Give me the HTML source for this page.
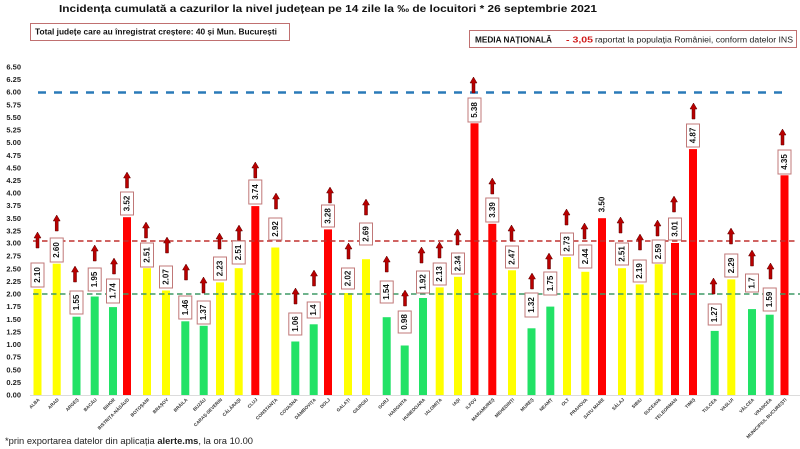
<!DOCTYPE html>
<html><head><meta charset="utf-8">
<style>
html,body{margin:0;padding:0;background:#fff;}
svg{display:block;}
.yl{font:bold 7.5px "Liberation Sans",sans-serif;fill:#222;text-anchor:end;dominant-baseline:central;}
.xl{font:bold 4.6px "Liberation Sans",sans-serif;fill:#333;text-anchor:end;}
.bx{fill:#fff;stroke:#c07878;stroke-width:1;}
.bt{font:bold 8px "Liberation Sans",sans-serif;fill:#111;text-anchor:middle;dominant-baseline:central;}
.ar{fill:#b80000;stroke:#5a0000;stroke-width:0.5;}
</style></head>
<body>
<svg width="800" height="449" viewBox="0 0 800 449" xmlns="http://www.w3.org/2000/svg">
<defs>
<polygon id="arw" class="ar" points="0,0 3.5,6 1.5,6 1.5,16 -1.5,16 -1.5,6 -3.5,6"/>
</defs>
<!-- title -->
<text x="59" y="12" textLength="538" lengthAdjust="spacingAndGlyphs" style="font:bold 10.5px 'Liberation Sans',sans-serif;fill:#111;">Incidența cumulată a cazurilor la nivel județean pe 14 zile la ‰ de locuitori * 26 septembrie 2021</text>
<!-- box 1 -->
<rect x="30.5" y="23.5" width="259" height="17" fill="#fff" stroke="#c07070" stroke-width="1"/>
<text x="35" y="34.5" textLength="242" lengthAdjust="spacingAndGlyphs" style="font:bold 8px 'Liberation Sans',sans-serif;fill:#111;">Total județe care au înregistrat creștere:  40 și Mun. București</text>
<!-- box 2 -->
<rect x="469.5" y="30.5" width="327" height="17" fill="#fff" stroke="#c07070" stroke-width="1"/>
<text y="42.5" style="font:8px 'Liberation Sans',sans-serif;fill:#222;"><tspan x="475" textLength="77" lengthAdjust="spacingAndGlyphs" style="font-weight:bold;fill:#111;">MEDIA NAȚIONALĂ</tspan><tspan x="566" textLength="27" lengthAdjust="spacingAndGlyphs" style="font-weight:bold;fill:#d01818;">- 3,05</tspan><tspan x="595" textLength="198" lengthAdjust="spacingAndGlyphs">raportat la populația României, conform datelor INS</tspan></text>

<!-- y labels -->
<g class="yl">
<text x="21" y="67.0">6.50</text><text x="21" y="79.6">6.25</text><text x="21" y="92.0">6.00</text><text x="21" y="104.9">5.75</text>
<text x="21" y="117.5">5.50</text><text x="21" y="130.1">5.25</text><text x="21" y="142.5">5.00</text><text x="21" y="155.4">4.75</text>
<text x="21" y="168.0">4.50</text><text x="21" y="180.4">4.25</text><text x="21" y="193.0">4.00</text><text x="21" y="205.6">3.75</text>
<text x="21" y="218.3">3.50</text><text x="21" y="230.9">3.25</text><text x="21" y="243.0">3.00</text><text x="21" y="256.1">2.75</text>
<text x="21" y="268.8">2.50</text><text x="21" y="281.4">2.25</text><text x="21" y="294.0">2.00</text><text x="21" y="306.6">1.75</text>
<text x="21" y="319.3">1.50</text><text x="21" y="331.9">1.25</text><text x="21" y="344.5">1.00</text><text x="21" y="357.1">0.75</text>
<text x="21" y="369.8">0.50</text><text x="21" y="382.4">0.25</text><text x="21" y="395.0">0.00</text>
</g>

<line x1="30" y1="395.5" x2="800" y2="395.5" stroke="#dcdcdc" stroke-width="1"/>

<!-- bars -->
<g>
<rect x="33.5" y="288.95" width="8" height="106.05" fill="#ffff00"/>
<rect x="52.7" y="263.7" width="8" height="131.3" fill="#ffff00"/>
<rect x="72.5" y="316.7" width="8" height="78.3" fill="#22e266"/>
<rect x="90.7" y="296.5" width="8" height="98.5" fill="#22e266"/>
<rect x="109" y="307.1" width="8" height="87.9" fill="#22e266"/>
<rect x="123" y="217.2" width="8" height="177.8" fill="#ff0000"/>
<rect x="143" y="268.2" width="8" height="126.8" fill="#ffff00"/>
<rect x="162" y="290.5" width="8" height="104.5" fill="#ffff00"/>
<rect x="181.3" y="321.3" width="8" height="73.7" fill="#22e266"/>
<rect x="199.7" y="325.8" width="8" height="69.2" fill="#22e266"/>
<rect x="216" y="282.4" width="8" height="112.6" fill="#ffff00"/>
<rect x="234.7" y="268.2" width="8" height="126.8" fill="#ffff00"/>
<rect x="251.3" y="206.1" width="8" height="188.9" fill="#ff0000"/>
<rect x="271.3" y="247.5" width="8" height="147.5" fill="#ffff00"/>
<rect x="291.3" y="341.5" width="8" height="53.5" fill="#22e266"/>
<rect x="309.7" y="324.3" width="8" height="70.7" fill="#22e266"/>
<rect x="324" y="229.4" width="8" height="165.6" fill="#ff0000"/>
<rect x="344" y="293.0" width="8" height="102" fill="#ffff00"/>
<rect x="362" y="259.2" width="8" height="135.8" fill="#ffff00"/>
<rect x="382.7" y="317.2" width="8" height="77.8" fill="#22e266"/>
<rect x="400.7" y="345.5" width="8" height="49.5" fill="#22e266"/>
<rect x="419" y="298.0" width="8" height="97" fill="#22e266"/>
<rect x="435.7" y="287.4" width="8" height="107.6" fill="#ffff00"/>
<rect x="454" y="276.8" width="8" height="118.2" fill="#ffff00"/>
<rect x="470.5" y="123.3" width="8" height="271.7" fill="#ff0000"/>
<rect x="488.3" y="223.8" width="8" height="171.2" fill="#ff0000"/>
<rect x="508" y="270.3" width="8" height="124.7" fill="#ffff00"/>
<rect x="527.5" y="328.3" width="8" height="66.7" fill="#22e266"/>
<rect x="546.3" y="306.6" width="8" height="88.4" fill="#22e266"/>
<rect x="563" y="257.1" width="8" height="137.9" fill="#ffff00"/>
<rect x="581.3" y="271.8" width="8" height="123.2" fill="#ffff00"/>
<rect x="598" y="218.2" width="8" height="176.8" fill="#ff0000"/>
<rect x="618" y="268.2" width="8" height="126.8" fill="#ffff00"/>
<rect x="635.7" y="284.4" width="8" height="110.6" fill="#ffff00"/>
<rect x="654.7" y="264.2" width="8" height="130.8" fill="#ffff00"/>
<rect x="671" y="243.0" width="8" height="152" fill="#ff0000"/>
<rect x="689" y="149.1" width="8" height="245.9" fill="#ff0000"/>
<rect x="710.7" y="330.9" width="8" height="64.1" fill="#22e266"/>
<rect x="727.3" y="279.4" width="8" height="115.6" fill="#ffff00"/>
<rect x="748" y="309.1" width="8" height="85.9" fill="#22e266"/>
<rect x="765.7" y="314.7" width="8" height="80.3" fill="#22e266"/>
<rect x="780.5" y="175.3" width="8" height="219.7" fill="#ff0000"/>
</g>

<!-- reference lines -->
<line x1="38" y1="92.5" x2="788" y2="92.5" stroke="#2a7ab8" stroke-width="2.6" stroke-dasharray="8 8"/>
<line x1="33" y1="241" x2="797" y2="241" stroke="#c0302e" stroke-width="1.6" stroke-dasharray="5.5 3.5"/>
<line x1="33" y1="294" x2="800" y2="294" stroke="#3f9a66" stroke-width="1.6" stroke-dasharray="5.5 3.5"/>

<!-- arrows -->
<g>
<use href="#arw" x="37.5" y="232"/>
<use href="#arw" x="56.7" y="215"/>
<use href="#arw" x="75" y="266"/>
<use href="#arw" x="94.7" y="245"/>
<use href="#arw" x="114" y="258"/>
<use href="#arw" x="127" y="172"/>
<use href="#arw" x="146" y="222"/>
<use href="#arw" x="167" y="237"/>
<use href="#arw" x="186" y="264"/>
<use href="#arw" x="203.5" y="277"/>
<use href="#arw" x="219.5" y="233"/>
<use href="#arw" x="239" y="225"/>
<use href="#arw" x="255.3" y="162"/>
<use href="#arw" x="276" y="193"/>
<use href="#arw" x="295.5" y="288"/>
<use href="#arw" x="314" y="270"/>
<use href="#arw" x="330" y="187"/>
<use href="#arw" x="348.5" y="243"/>
<use href="#arw" x="366" y="199"/>
<use href="#arw" x="386.7" y="256"/>
<use href="#arw" x="405" y="290"/>
<use href="#arw" x="421.5" y="247"/>
<use href="#arw" x="439.5" y="242"/>
<use href="#arw" x="457.5" y="229"/>
<use href="#arw" x="473.5" y="77"/>
<use href="#arw" x="492.3" y="178"/>
<use href="#arw" x="511.5" y="225"/>
<use href="#arw" x="532" y="273"/>
<use href="#arw" x="549" y="253"/>
<use href="#arw" x="566.5" y="209"/>
<use href="#arw" x="584.5" y="223"/>
<use href="#arw" x="620.5" y="217"/>
<use href="#arw" x="640" y="234"/>
<use href="#arw" x="657.5" y="220"/>
<use href="#arw" x="674" y="196"/>
<use href="#arw" x="693.5" y="103"/>
<use href="#arw" x="713.5" y="278"/>
<use href="#arw" x="731" y="228"/>
<use href="#arw" x="752" y="250"/>
<use href="#arw" x="770.5" y="263"/>
<use href="#arw" x="782.5" y="129"/>
</g>

<!-- value boxes -->
<g>
<rect class="bx" x="31" y="263" width="13" height="24"/><text class="bt" transform="translate(37.5 275) rotate(-90)">2.10</text>
<rect class="bx" x="50.2" y="238" width="13" height="24"/><text class="bt" transform="translate(56.7 250) rotate(-90)">2.60</text>
<rect class="bx" x="70" y="291" width="13" height="23"/><text class="bt" transform="translate(76.5 302.5) rotate(-90)">1.55</text>
<rect class="bx" x="88.2" y="268" width="13" height="23"/><text class="bt" transform="translate(94.7 279.5) rotate(-90)">1.95</text>
<rect class="bx" x="106.5" y="279" width="13" height="24"/><text class="bt" transform="translate(113 291) rotate(-90)">1.74</text>
<rect class="bx" x="120.5" y="192" width="13" height="23"/><text class="bt" transform="translate(127 203.5) rotate(-90)">3.52</text>
<rect class="bx" x="140.5" y="243" width="13" height="24"/><text class="bt" transform="translate(147 255) rotate(-90)">2.51</text>
<rect class="bx" x="159.5" y="266" width="13" height="22"/><text class="bt" transform="translate(166 277) rotate(-90)">2.07</text>
<rect class="bx" x="178.8" y="296" width="13" height="23"/><text class="bt" transform="translate(185.3 307.5) rotate(-90)">1.46</text>
<rect class="bx" x="197.2" y="301" width="13" height="23"/><text class="bt" transform="translate(203.7 312.5) rotate(-90)">1.37</text>
<rect class="bx" x="213.5" y="257" width="13" height="23"/><text class="bt" transform="translate(220 268.5) rotate(-90)">2.23</text>
<rect class="bx" x="232.2" y="241" width="13" height="23"/><text class="bt" transform="translate(238.7 252.5) rotate(-90)">2.51</text>
<rect class="bx" x="248.8" y="180" width="13" height="24"/><text class="bt" transform="translate(255.3 192) rotate(-90)">3.74</text>
<rect class="bx" x="268.8" y="218" width="13" height="22"/><text class="bt" transform="translate(275.3 229) rotate(-90)">2.92</text>
<rect class="bx" x="288.8" y="313" width="13" height="22"/><text class="bt" transform="translate(295.3 324) rotate(-90)">1.06</text>
<rect class="bx" x="307.2" y="302" width="13" height="16"/><text class="bt" transform="translate(313.7 310) rotate(-90)">1.4</text>
<rect class="bx" x="321.5" y="205" width="13" height="22"/><text class="bt" transform="translate(328 216) rotate(-90)">3.28</text>
<rect class="bx" x="341.5" y="268" width="13" height="21"/><text class="bt" transform="translate(348 278.5) rotate(-90)">2.02</text>
<rect class="bx" x="359.5" y="223" width="13" height="22"/><text class="bt" transform="translate(366 234) rotate(-90)">2.69</text>
<rect class="bx" x="380.2" y="281" width="13" height="22"/><text class="bt" transform="translate(386.7 292) rotate(-90)">1.54</text>
<rect class="bx" x="398.2" y="311" width="13" height="22"/><text class="bt" transform="translate(404.7 322) rotate(-90)">0.98</text>
<rect class="bx" x="416.5" y="271" width="13" height="22"/><text class="bt" transform="translate(423 282) rotate(-90)">1.92</text>
<rect class="bx" x="433.2" y="263" width="13" height="22"/><text class="bt" transform="translate(439.7 274) rotate(-90)">2.13</text>
<rect class="bx" x="451.5" y="253" width="13" height="21"/><text class="bt" transform="translate(458 263.5) rotate(-90)">2.34</text>
<rect class="bx" x="468" y="98" width="13" height="24"/><text class="bt" transform="translate(474.5 110) rotate(-90)">5.38</text>
<rect class="bx" x="485.8" y="198" width="13" height="24"/><text class="bt" transform="translate(492.3 210) rotate(-90)">3.39</text>
<rect class="bx" x="505.5" y="246" width="13" height="22"/><text class="bt" transform="translate(512 257) rotate(-90)">2.47</text>
<rect class="bx" x="525" y="293" width="13" height="24"/><text class="bt" transform="translate(531.5 305) rotate(-90)">1.32</text>
<rect class="bx" x="543.8" y="272" width="13" height="23"/><text class="bt" transform="translate(550.3 283.5) rotate(-90)">1.75</text>
<rect class="bx" x="560.5" y="233" width="13" height="22"/><text class="bt" transform="translate(567 244) rotate(-90)">2.73</text>
<rect class="bx" x="578.8" y="245" width="13" height="23"/><text class="bt" transform="translate(585.3 256.5) rotate(-90)">2.44</text>
<text class="bt" transform="translate(602 204.5) rotate(-90)">3.50</text>
<rect class="bx" x="615.5" y="243" width="13" height="22"/><text class="bt" transform="translate(622 254) rotate(-90)">2.51</text>
<rect class="bx" x="633.2" y="260" width="13" height="22"/><text class="bt" transform="translate(639.7 271) rotate(-90)">2.19</text>
<rect class="bx" x="652.2" y="240" width="13" height="23"/><text class="bt" transform="translate(658.7 251.5) rotate(-90)">2.59</text>
<rect class="bx" x="668.5" y="218" width="13" height="22"/><text class="bt" transform="translate(675 229) rotate(-90)">3.01</text>
<rect class="bx" x="686.5" y="124" width="13" height="23"/><text class="bt" transform="translate(693 135.5) rotate(-90)">4.87</text>
<rect class="bx" x="708.2" y="304" width="13" height="21"/><text class="bt" transform="translate(714.7 314.5) rotate(-90)">1.27</text>
<rect class="bx" x="724.8" y="254" width="13" height="23"/><text class="bt" transform="translate(731.3 265.5) rotate(-90)">2.29</text>
<rect class="bx" x="745.5" y="274" width="13" height="18"/><text class="bt" transform="translate(752 283) rotate(-90)">1.7</text>
<rect class="bx" x="763.2" y="288" width="13" height="23"/><text class="bt" transform="translate(769.7 299.5) rotate(-90)">1.59</text>
<rect class="bx" x="778" y="150" width="13" height="24"/><text class="bt" transform="translate(784.5 162) rotate(-90)">4.35</text>
</g>

<!-- x labels -->
<g class="xl">
<text transform="translate(40 400) rotate(-45)">ALBA</text>
<text transform="translate(59.2 400) rotate(-45)">ARAD</text>
<text transform="translate(79 400) rotate(-45)">ARGEȘ</text>
<text transform="translate(97.2 400) rotate(-45)">BACĂU</text>
<text transform="translate(115.5 400) rotate(-45)">BIHOR</text>
<text transform="translate(129.5 400) rotate(-45)">BISTRIȚA-NĂSĂUD</text>
<text transform="translate(149.5 400) rotate(-45)">BOTOȘANI</text>
<text transform="translate(168.5 400) rotate(-45)">BRAȘOV</text>
<text transform="translate(187.8 400) rotate(-45)">BRĂILA</text>
<text transform="translate(206.2 400) rotate(-45)">BUZĂU</text>
<text transform="translate(222.5 400) rotate(-45)">CARAȘ-SEVERIN</text>
<text transform="translate(241.2 400) rotate(-45)">CĂLĂRAȘI</text>
<text transform="translate(257.8 400) rotate(-45)">CLUJ</text>
<text transform="translate(277.8 400) rotate(-45)">CONSTANȚA</text>
<text transform="translate(297.8 400) rotate(-45)">COVASNA</text>
<text transform="translate(316.2 400) rotate(-45)">DÂMBOVIȚA</text>
<text transform="translate(330.5 400) rotate(-45)">DOLJ</text>
<text transform="translate(350.5 400) rotate(-45)">GALAȚI</text>
<text transform="translate(368.5 400) rotate(-45)">GIURGIU</text>
<text transform="translate(389.2 400) rotate(-45)">GORJ</text>
<text transform="translate(407.2 400) rotate(-45)">HARGHITA</text>
<text transform="translate(425.5 400) rotate(-45)">HUNEDOARA</text>
<text transform="translate(442.2 400) rotate(-45)">IALOMIȚA</text>
<text transform="translate(460.5 400) rotate(-45)">IAȘI</text>
<text transform="translate(477 400) rotate(-45)">ILFOV</text>
<text transform="translate(494.8 400) rotate(-45)">MARAMUREȘ</text>
<text transform="translate(514.5 400) rotate(-45)">MEHEDINȚI</text>
<text transform="translate(534 400) rotate(-45)">MUREȘ</text>
<text transform="translate(552.8 400) rotate(-45)">NEAMȚ</text>
<text transform="translate(569.5 400) rotate(-45)">OLT</text>
<text transform="translate(587.8 400) rotate(-45)">PRAHOVA</text>
<text transform="translate(604.5 400) rotate(-45)">SATU MARE</text>
<text transform="translate(624.5 400) rotate(-45)">SĂLAJ</text>
<text transform="translate(642.2 400) rotate(-45)">SIBIU</text>
<text transform="translate(661.2 400) rotate(-45)">SUCEAVA</text>
<text transform="translate(677.5 400) rotate(-45)">TELEORMAN</text>
<text transform="translate(695.5 400) rotate(-45)">TIMIȘ</text>
<text transform="translate(717.2 400) rotate(-45)">TULCEA</text>
<text transform="translate(733.8 400) rotate(-45)">VASLUI</text>
<text transform="translate(754.5 400) rotate(-45)">VÂLCEA</text>
<text transform="translate(772.2 400) rotate(-45)">VRANCEA</text>
<text transform="translate(787 400) rotate(-45)">MUNICIPIUL BUCUREȘTI</text>
</g>

<!-- footer -->
<text x="5" y="444" textLength="248" lengthAdjust="spacingAndGlyphs" style="font:9.5px 'Liberation Sans',sans-serif;fill:#222;">*prin exportarea datelor din aplicația <tspan style="font-weight:bold;">alerte.ms</tspan>, la ora 10.00</text>
</svg>
</body></html>
